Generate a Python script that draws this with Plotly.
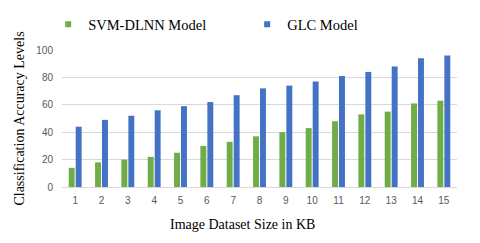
import plotly.graph_objects as go

categories = [str(i) for i in range(1, 16)]
svm_dlnn = [14, 18, 20, 22, 25, 30, 33, 37, 40, 43, 48, 53, 55, 61, 63]
glc = [44, 49, 52, 56, 59, 62, 67, 72, 74, 77, 81, 84, 88, 94, 96]
y_ticks = [0, 20, 40, 60, 80, 100]

GREEN = "#70AD47"
BLUE = "#4472C4"
SERIF = "Liberation Serif, Times New Roman, serif"
SANS = "Liberation Sans, Arial, sans-serif"

fig = go.Figure()
fig.add_trace(go.Bar(x=categories, y=svm_dlnn, name="SVM-DLNN Model",
                     marker=dict(color=GREEN, line=dict(width=0)), showlegend=False))
fig.add_trace(go.Bar(x=categories, y=glc, name="GLC Model",
                     marker=dict(color=BLUE, line=dict(width=0)), showlegend=False))
# legend entries (small square markers)
fig.add_trace(go.Scatter(x=[None], y=[None], mode="markers", name="SVM-DLNN Model",
                         marker=dict(symbol="square", size=6, color=GREEN)))
fig.add_trace(go.Scatter(x=[None], y=[None], mode="markers", name="GLC Model",
                         marker=dict(symbol="square", size=6, color=BLUE)))

# page body has an 8px margin, so the figure is drawn 8px smaller
fig.update_layout(
    width=472, height=235,
    margin=dict(l=54, r=23, t=42, b=56, autoexpand=False),
    paper_bgcolor="white", plot_bgcolor="white",
    barmode="group", bargap=0.47, bargroupgap=0.15,
    legend=dict(orientation="h", x=-0.035, xanchor="left", y=1.07, yanchor="bottom",
                entrywidth=154, entrywidthmode="pixels",
                font=dict(family=SERIF, size=14.5, color="#000000"),
                bgcolor="rgba(0,0,0,0)", itemclick=False),
    xaxis=dict(type="category", showgrid=False, showline=True, linecolor="#D9D9D9",
               linewidth=1, ticks="", ticklabelstandoff=4,
               tickfont=dict(family=SANS, size=10, color="#595959")),
    yaxis=dict(range=[0, 100], tickvals=y_ticks, showgrid=True, gridcolor="#D9D9D9",
               gridwidth=1, zeroline=False, showline=False, ticks="", ticklabelstandoff=8,
               tickfont=dict(family=SANS, size=10, color="#595959"),
               title=dict(text="Classification Accuracy Levels",
                          font=dict(family=SERIF, size=14, color="#000000"), standoff=8)),
    annotations=[dict(text="Image Dataset Size in KB", xref="paper", yref="paper",
                      x=(242.5 - 62) / 395, y=-38 / 137, xanchor="center", yanchor="middle",
                      showarrow=False, font=dict(family=SERIF, size=14, color="#000000"))],
)

fig.write_html("out.html")
